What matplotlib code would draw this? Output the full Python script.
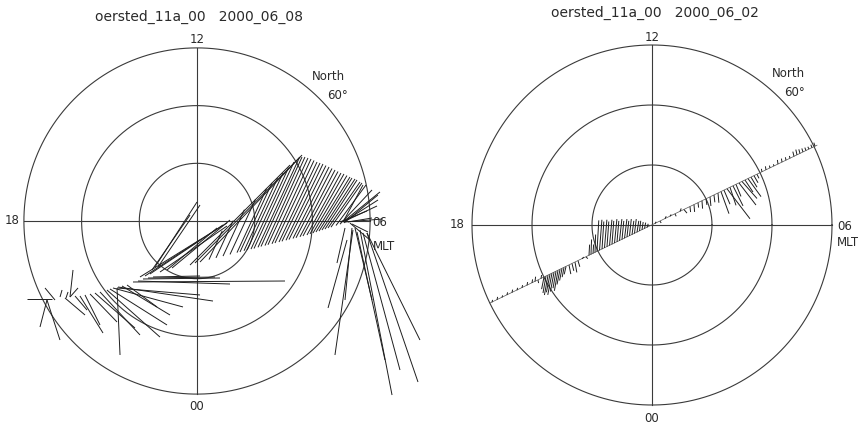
import numpy as np
import matplotlib
matplotlib.use("Agg")
import matplotlib.pyplot as plt
from matplotlib.collections import LineCollection

# ---------------- data ----------------
titles = ["oersted_11a_00   2000_06_08", "oersted_11a_00   2000_06_02"]
ring_lats = [80, 70, 60]           # latitude circles (deg)
mlt_labels = ["12", "18", "00", "06"]
hemisphere = "North"
outer_lat_label = "60°"

# Left pass: vector base positions (deg colatitude, x toward 06 MLT, y toward 12 MLT)
left_x = [-25.13, -26.0, -26.0, -24.61, -23.74, -22.70, -22.01, -22.01, -22.88, -21.14,
          -20.28, -19.41, -18.54, -17.68, -16.81, -15.6, -15.08, -14.56, -13.86, -13.86,
          -13.69, -13.0, -12.13, -11.09, -10.22, -9.36, -8.49, -7.62,
          -7.28, -6.76, -7.8,
          -9.88, -8.15, -6.41, -5.2, -9.01, -4.33,
          -1.21, -0.35, 0.52, 2.08, 3.29, 4.51, 5.72, 7.45, 6.93, 8.15, 8.67, 9.36, 9.88,
          10.57, 11.09, 11.78, 12.3, 13.0, 13.52, 14.21, 14.73, 15.42, 15.94, 16.64, 17.16,
          17.85, 18.37, 19.06, 19.58, 20.1, 20.62, 21.14, 21.66, 22.18, 22.7, 23.22, 24.09,
          24.78, 25.47,
          25.3, 25.3, 25.65, 25.65, 24.78, 25.65, 26.17, 26.51, 26.86,
          27.03, 26.0, 25.65, 28.25, 28.77, 29.46, 29.46, 27.73, 26.86, 27.38]
left_y = [-13.52, -13.69, -13.69, -13.69, -13.17, -13.34, -13.17, -13.17, -13.34, -13.0,
          -13.0, -12.82, -12.65, -12.48, -12.30, -11.96, -11.78, -11.61, -11.61, -11.61,
          -11.44, -11.26, -11.09, -10.57, -10.4, -10.05, -9.88, -9.7,
          -7.97, -7.97, -8.49,
          -9.7, -9.18, -8.84, -8.49, -9.53, -8.15,
          -7.63, -7.28, -7.11, -6.69, -6.39, -6.08, -5.79, -5.37, -5.48, -5.16, -5.03, -4.87, -4.77,
          -4.56, -4.42, -4.26, -4.12, -3.95, -3.81, -3.64, -3.52, -3.34, -3.21, -3.03, -2.91,
          -2.74, -2.6, -2.43, -2.25, -2.08, -1.91, -1.75, -1.56, -1.4, -1.21, -1.07, -0.78,
          -0.55, -0.33,
          -0.17, -0.17, 0.0, 0.0, -0.17, -0.17, -0.17, -0.35, -0.52,
          -1.56, -3.29, -1.21, -1.56, -2.08, -2.08, -2.08, -1.91, -1.21, -1.21]
left_u = [-4.33, -1.21, 2.25, -1.73, 0.35, 0.35, 0.52, 1.39, 3.47, 2.08,
          3.99, 2.6, 4.68, 6.93, 6.93, 9.18, 9.88, 12.13, 0.52, 14.38,
          16.46, 8.32, 5.2, 26.34, 15.94, 13.34, 11.61, 8.15,
          7.28, 7.28, 6.59,
          15.08, 12.65, 11.61, 8.67, 9.53, 10.05,
          17.33, 18.2, 17.68, 2.3, 2.98, 3.71, 4.42, 5.55, 5.11, 5.81, 6.24, 6.5, 6.93,
          7.21, 7.11, 6.93, 6.93, 6.76, 6.76, 6.59, 6.59, 6.41, 6.41, 6.24, 6.24,
          6.07, 6.07, 5.89, 5.89, 5.89, 5.89, 5.72, 5.72, 5.55, 5.55, 5.37, 5.2,
          5.55, 5.89,
          3.47, 6.41, 5.72, 5.55, 4.68, 6.59, 4.16, 3.47, 2.77,
          -3.12, -3.29, -1.39, 5.55, 6.41, 8.84, 9.18, 4.85, -1.21, 2.95]
left_v = [0.0, -4.68, -6.93, 2.08, 1.21, 1.04, 4.68, 1.56, -2.95, -2.43,
          -6.41, -5.2, -4.85, -6.07, -7.45, -8.15, -6.24, -3.29, -11.61, -1.21,
          -2.43, -5.03, -3.81, 0.17, -0.52, 0.17, 0.17, 0.17,
          11.26, 10.74, 9.53,
          9.36, 8.49, 7.97, 7.28, 6.24, 8.32,
          17.33, 18.37, 18.54, 4.99, 6.46, 8.04, 9.55, 11.96, 11.07, 12.58, 13.34, 14.11, 14.99,
          15.61, 15.51, 15.35, 15.04, 14.7, 14.3, 13.86, 13.57, 13.22, 12.82, 12.39, 12.01,
          11.58, 11.18, 10.74, 10.4, 9.96, 9.53, 9.2, 8.84, 8.51, 7.97, 7.66, 7.02,
          5.93, 4.84,
          6.41, 5.2, 3.64, 2.6, 1.91, 0.52, 0.69, -2.95, -1.39,
          -21.66, -11.78, -6.07, -28.6, -23.74, -25.82, -18.54, -22.18, -12.48, -12.48]

# Right pass: satellite track end points and vectors
right_track_x = [-27.0, 27.5]
right_track_y = [-13.0, 13.3]
right_x = [-26.67, -25.83, -25.0, -24.17, -23.33, -22.5, -21.67, -20.83, -20.0,
           -19.5, -19.0, -18.5,
           -18.0, -17.67, -17.33, -17.0, -16.67, -16.33, -16.0, -15.67, -15.33, -15.0, -14.67, -14.33,
           -13.83, -13.33, -12.83, -12.33,
           -11.67, -11.0,
           -10.5, -10.17, -9.83, -9.5,
           -9.17, -8.75, -8.33, -7.92, -7.5, -7.08, -6.67, -6.25, -5.83, -5.42, -5.0, -4.58,
           -4.17, -3.75, -3.33, -2.92, -2.5, -2.08, -1.67, -1.25, -0.83,
           0.5, 1.33, 2.17, 3.0, 3.83, 4.67, 5.33, 6.33, 7.0, 7.67, 8.33,
           9.0, 9.67, 10.33, 11.0,
           11.5, 12.0, 12.5, 13.0, 13.5, 14.0, 14.5, 15.0, 15.5, 16.0, 16.5, 17.0, 17.5,
           18.33, 19.0, 19.67, 20.33, 21.0, 21.67, 22.33, 23.0,
           23.67, 24.17, 24.67, 25.17, 25.67, 26.17, 26.67, 27.17]
right_y = [-12.88, -12.48, -12.08, -11.67, -11.27, -10.87, -10.47, -10.06, -9.66,
           -9.42, -9.18, -8.94,
           -8.69, -8.53, -8.37, -8.21, -8.05, -7.89, -7.73, -7.57, -7.41, -7.25, -7.09, -6.92,
           -6.68, -6.44, -6.2, -5.96,
           -5.64, -5.31,
           -5.07, -4.91, -4.75, -4.59,
           -4.43, -4.23, -4.02, -3.82, -3.62, -3.42, -3.22, -3.02, -2.82, -2.62, -2.42, -2.21,
           -2.01, -1.81, -1.61, -1.41, -1.21, -1.0, -0.81, -0.6, -0.4,
           0.24, 0.64, 1.05, 1.45, 1.85, 2.26, 2.58, 3.06, 3.38, 3.7, 4.03,
           4.35, 4.67, 4.99, 5.31,
           5.56, 5.8, 6.04, 6.28, 6.52, 6.76, 7.0, 7.25, 7.49, 7.73, 7.97, 8.21, 8.45,
           8.86, 9.18, 9.5, 9.82, 10.14, 10.47, 10.79, 11.11,
           11.43, 11.67, 11.91, 12.16, 12.4, 12.64, 12.88, 13.12]
right_u = [0.1, 0.1, 0.1, 0.1, 0.1, 0.1, 0.1, 0.1, 0.1,
           0.1, 0.1, 0.1,
           -0.4, -0.5, -0.6, -0.6, -0.7, -0.6, -0.5, -0.6, -0.5, -0.4, -0.3, -0.3,
           0.3, 0.3, 0.3, 0.3,
           0.3, 0.3,
           0.1, 0.1, 0.1, 0.1,
           0.3, 0.4, 0.3, 0.4, 0.3, 0.4, 0.3, 0.4, 0.3, 0.4, 0.3, 0.4,
           0.3, 0.3, 0.3, 0.3, 0.3, 0.2, 0.2, 0.2, 0.2,
           0.2, 0.2, 0.2, 0.2, 0.2, 0.2, 0.5, 0.1, 0.1, 0.1, 0.1,
           0.15, 0.15, 0.15, 0.15,
           1.33, 1.0, 3.83, 1.0, 1.67, 0.83, 2.83, 2.5, 1.33, 2.17, 1.0, 0.67, 0.33,
           -0.1, -0.1, -0.1, -0.1, -0.1, -0.1, -0.1, -0.1,
           -0.2, -0.2, -0.2, -0.2, -0.2, -0.2, -0.2, -0.2]
right_v = [0.4, 0.5, 0.35, 0.45, 0.5, 0.4, 0.45, 0.55, 0.6,
           0.8, -0.5, 0.6,
           -2.0, -2.8, -3.3, -3.0, -3.6, -3.2, -2.8, -3.4, -2.5, -2.0, -1.6, -1.3,
           -1.5, -1.2, -1.7, -1.0,
           0.3, -0.3,
           1.8, 2.5, 1.5, 3.0,
           5.2, 5.1, 4.6, 4.7, 4.2, 4.3, 3.9, 4.0, 3.5, 3.6, 3.1, 3.2,
           2.7, 2.8, 2.3, 2.4, 1.9, 1.7, 1.3, 1.0, 0.6,
           0.3, -0.3, 0.4, 0.3, -0.4, 0.5, -0.6, -0.9, -1.2, -0.8, -1.3,
           -1.0, -1.5, -1.2, -1.6,
           -3.67, -2.33, -5.0, -3.0, -3.33, -2.0, -3.67, -2.83, -2.0, -3.0, -1.67, -1.17, -0.67,
           0.5, 0.6, 0.4, 0.3, 0.7, 0.6, 0.5, 0.4,
           0.8, 0.9, 0.7, 0.6, 0.5, 0.4, 0.5, 0.6]

# ---------------- figure ----------------
W, H = 858, 426
fig = plt.figure(figsize=(W / 100, H / 100), dpi=100)
fig.patch.set_facecolor("white")

GRID = "#3a3a3a"
VEC = "#1e1e1e"
TXT = "#2a2a2a"


def make_panel(cx, cy, s, x0, x1):
    ax = fig.add_axes([x0 / W, 0, (x1 - x0) / W, 1])
    ax.set_xlim((x0 - cx) / s, (x1 - cx) / s)
    ax.set_ylim((cy - H) / s, cy / s)
    ax.axis("off")
    th = np.linspace(0, 2 * np.pi, 400)
    for lat in ring_lats:
        r = 90 - lat
        ax.plot(r * np.cos(th), r * np.sin(th), color=GRID, lw=0.8, clip_on=False)
    rmax = 90 - min(ring_lats)
    ax.plot([-rmax, rmax], [0, 0], color=GRID, lw=0.8)
    ax.plot([0, 0], [-rmax, rmax], color=GRID, lw=0.8)
    return ax


def draw_vectors(ax, x, y, u, v, lw):
    x = np.asarray(x); y = np.asarray(y); u = np.asarray(u); v = np.asarray(v)
    segs = np.stack([np.column_stack([x, y]), np.column_stack([x + u, y + v])], axis=1)
    ax.add_collection(LineCollection(segs, colors=VEC, linewidths=lw, clip_on=False))


def labels(ax, t12, t00, x18, x06, mlt_xy, north_xy, lat_xy, fs=8.5):
    kw = dict(fontsize=fs, color=TXT, family="DejaVu Sans")
    ax.text(0, t12, mlt_labels[0], ha="center", va="center", **kw)
    ax.text(x18, 0, mlt_labels[1], ha="center", va="center", **kw)
    ax.text(0, t00, mlt_labels[2], ha="center", va="center", **kw)
    ax.text(x06, -0.3, mlt_labels[3], ha="left", va="center", **kw)
    ax.text(mlt_xy[0], mlt_xy[1], "MLT", ha="left", va="center", **kw)
    ax.text(north_xy[0], north_xy[1], hemisphere, ha="center", va="center", **kw)
    ax.text(lat_xy[0], lat_xy[1], outer_lat_label, ha="center", va="center", **kw)


# left panel
axL = make_panel(197, 221, 5.77, 0, 429)
draw_vectors(axL, left_x, left_y, left_u, left_v, 0.7)
labels(axL, 31.4, -32.1, -32.1, 30.3, (30.5, -4.5), (22.7, 25.1), (24.3, 21.8))

# right panel
axR = make_panel(652, 225, 6.0, 429, 858)
axR.plot(right_track_x, right_track_y, color="#555555", lw=0.5)
draw_vectors(axR, right_x, right_y, right_u, right_v, 0.7)
labels(axR, 31.3, -32.2, -32.5, 30.8, (30.8, -3.0), (22.8, 25.3), (23.7, 22.0))

fig.text(199 / W, 1 - 17 / H, titles[0], ha="center", va="center", fontsize=10, color=TXT)
fig.text(655 / W, 1 - 13 / H, titles[1], ha="center", va="center", fontsize=10, color=TXT)

fig.savefig("out.png", dpi=100, facecolor="white")
